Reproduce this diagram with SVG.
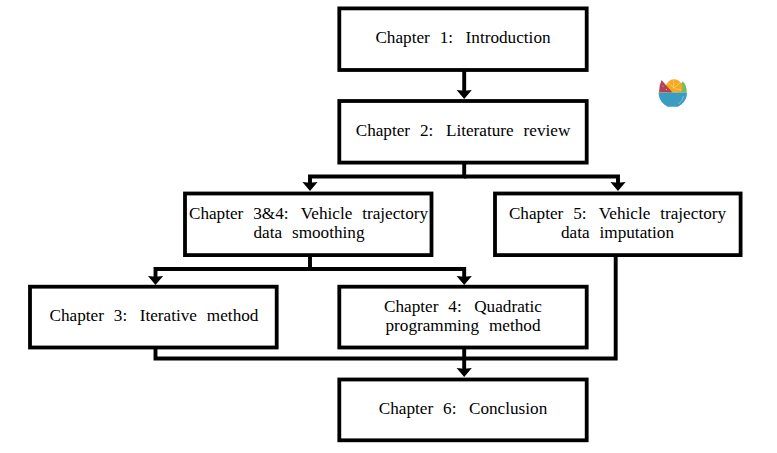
<svg xmlns="http://www.w3.org/2000/svg" width="777" height="453" viewBox="0 0 777 453">
<style>
.box{fill:#fff;stroke:#000;stroke-width:3.8}
.t{font-family:"Liberation Serif","Times New Roman",serif;font-size:17.2px;text-anchor:middle;word-spacing:5.6px;fill:#000}
.c{fill:none;stroke:#000;stroke-width:3.9;stroke-linejoin:miter}
</style>
<defs>
<marker id="ah" markerUnits="userSpaceOnUse" viewBox="0 0 9 16" refX="2" refY="8" markerWidth="9" markerHeight="16" orient="auto">
<path d="M0 0.4L9 8L0 15.6L0.8 8Z" fill="#000"/>
</marker>
</defs>
<rect width="777" height="453" fill="#fff"/>
<g id="connectors">
<path class="c" marker-end="url(#ah)" d="M464.2 70V92"/>
<path class="c" d="M464.2 162.6V176.5H310V184" marker-end="url(#ah)"/>
<path class="c" d="M464.2 176.5H618V184" marker-end="url(#ah)"/>
<path class="c" d="M310 255V269H155.5V278" marker-end="url(#ah)"/>
<path class="c" d="M310 269H464.2V278" marker-end="url(#ah)"/>
<path class="c" d="M155.5 347.5V358.5H464.2V370" marker-end="url(#ah)"/>
<path class="c" d="M464.2 347.5V358.5"/>
<path class="c" d="M615.7 255V358.5H464.2"/>
</g>
<g id="ch1"><rect class="box" x="339.3" y="8.4" width="247.4" height="61.6"/><text class="t" x="463" y="42.7">Chapter 1:<tspan dx="2.6"> Introduction</tspan></text></g>
<g id="ch2"><rect class="box" x="339.3" y="101" width="247.4" height="61.6"/><text class="t" x="463" y="135.7">Chapter 2:<tspan dx="2.6"> Literature review</tspan></text></g>
<g id="ch34"><rect class="box" x="185" y="193.5" width="246.5" height="61.6"/><text class="t" x="308.5" y="219.3">Chapter 3&amp;4:<tspan dx="2.6"> Vehicle trajectory</tspan></text><text class="t" x="309" y="238.3">data smoothing</text></g>
<g id="ch5"><rect class="box" x="495" y="193.5" width="245.6" height="61.6"/><text class="t" x="617.5" y="219.3">Chapter 5:<tspan dx="2.6"> Vehicle trajectory</tspan></text><text class="t" x="617.5" y="238.3">data imputation</text></g>
<g id="ch3"><rect class="box" x="30" y="286.7" width="246.7" height="60.8"/><text class="t" x="154" y="321">Chapter 3:<tspan dx="2.6"> Iterative method</tspan></text></g>
<g id="ch4"><rect class="box" x="339.3" y="286.7" width="247.4" height="60.8"/><text class="t" x="463" y="311.7">Chapter 4:<tspan dx="2.6"> Quadratic</tspan></text><text class="t" x="463" y="331">programming method</text></g>
<g id="ch6"><rect class="box" x="339.3" y="379.5" width="247.4" height="60.8"/><text class="t" x="463" y="413.8">Chapter 6:<tspan dx="2.6"> Conclusion</tspan></text></g>
<g id="bowl-icon">
<path d="M682.8 81.5Q679 85 679 92.5H686.8Q686.8 85 682.8 81.5Z" fill="#74bd63"/>
<path d="M667.2 92.5A8.4 8.4 0 1 1 681 92.5Z" fill="#f6a81e"/>
<path d="M673.7 88L668 82.5M673.7 88L673.7 79.8M673.7 88L680 83M673.7 88L681 90" stroke="#fbd98a" stroke-width="0.7" fill="none"/>
<path d="M661.5 80Q659.3 85 659 92.5H672.5Z" fill="#b5434f"/>
<circle cx="663" cy="86" r="0.6" fill="#f0c9c9"/><circle cx="666.5" cy="89.5" r="0.6" fill="#f0c9c9"/>
<path d="M658.6 92.5H687Q687 100 681.5 104.2L678 106.8H667.5L664 104.2Q658.6 100 658.6 92.5Z" fill="#3a9cc0"/>
<path d="M683.5 96Q682.5 101 678.5 104" stroke="#a9d8e8" stroke-width="0.6" fill="none"/>
</g>
</svg>
